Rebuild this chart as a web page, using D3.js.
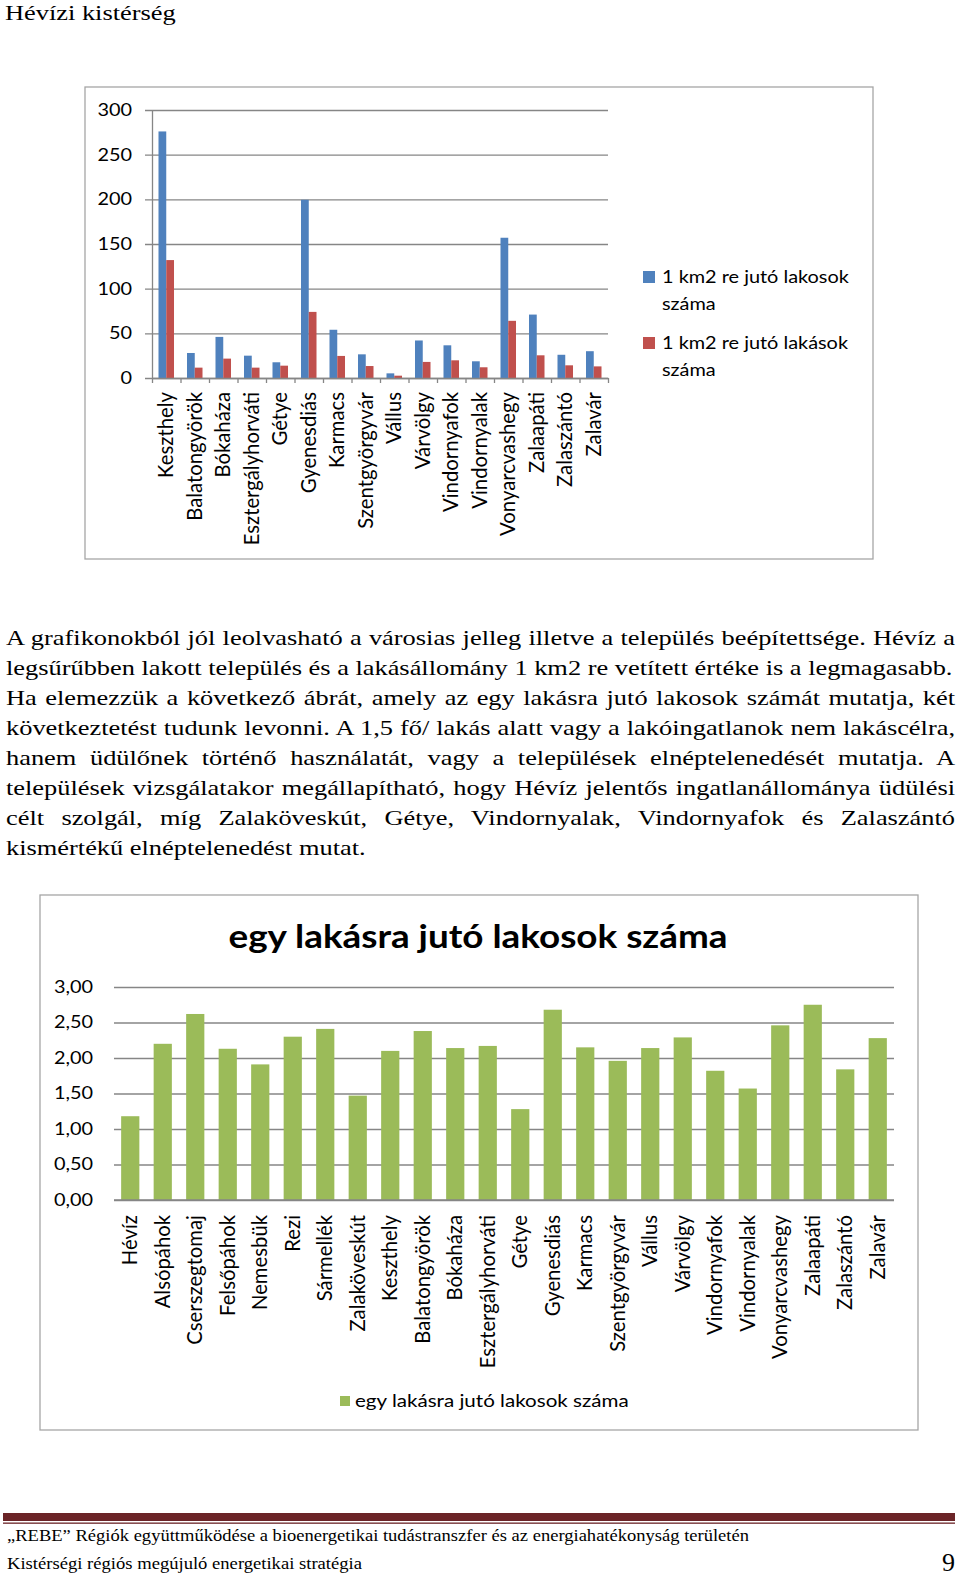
<!DOCTYPE html>
<html>
<head>
<meta charset="utf-8">
<script src="https://cdn.jsdelivr.net/npm/d3@7"></script>
<style>
	body { margin: 0; background: #fff; }
	svg { display: block; }
</style>
</head>
<body>
<script>
// first chart: density per km2
var towns1 = ['Keszthely', 'Balatongyörök', 'Bókaháza', 'Esztergályhorváti', 'Gétye', 'Gyenesdiás', 'Karmacs',
	'Szentgyörgyvár', 'Vállus', 'Várvölgy', 'Vindornyafok', 'Vindornyalak', 'Vonyarcvashegy', 'Zalaapáti', 'Zalaszántó', 'Zalavár'];
var lakosokKm2 = [276, 28, 46, 25, 17.6, 199.5, 54, 26.5, 5.2, 42, 36.6, 18.7, 157, 71, 26, 30];
var lakasokKm2 = [132, 11.6, 21.7, 11.6, 13.8, 74, 24.7, 13.4, 2.6, 18, 19.8, 12, 64, 25.4, 14.2, 13];
var ticks1 = [0, 50, 100, 150, 200, 250, 300];
var series1 = [['1 km2 re jutó lakosok', 'száma'], ['1 km2 re jutó lakások', 'száma']];

// second chart: residents per dwelling
var towns2 = ['Hévíz', 'Alsópáhok', 'Cserszegtomaj', 'Felsőpáhok', 'Nemesbük', 'Rezi', 'Sármellék', 'Zalaköveskút',
	'Keszthely', 'Balatongyörök', 'Bókaháza', 'Esztergályhorváti', 'Gétye', 'Gyenesdiás', 'Karmacs', 'Szentgyörgyvár',
	'Vállus', 'Várvölgy', 'Vindornyafok', 'Vindornyalak', 'Vonyarcvashegy', 'Zalaapáti', 'Zalaszántó', 'Zalavár'];
var lakosPerLakas = [1.18, 2.20, 2.62, 2.13, 1.91, 2.30, 2.41, 1.47, 2.10, 2.38, 2.14, 2.17, 1.28, 2.68, 2.15, 1.96,
	2.14, 2.29, 1.82, 1.57, 2.46, 2.75, 1.84, 2.28];
var ticks2 = [0, 0.5, 1, 1.5, 2, 2.5, 3];
var series2 = 'egy lakásra jutó lakosok száma';

var bodyLines = [
	'A grafikonokból jól leolvasható a városias jelleg illetve a település beépítettsége. Hévíz a',
	'legsűrűbben lakott település és a lakásállomány 1 km2 re vetített értéke is a legmagasabb.',
	'Ha elemezzük a következő ábrát, amely az egy lakásra jutó lakosok számát mutatja, két',
	'következtetést tudunk levonni. A 1,5 fő/ lakás alatt vagy a lakóingatlanok nem lakáscélra,',
	'hanem üdülőnek történő használatát, vagy a települések elnéptelenedését mutatja. A',
	'települések vizsgálatakor megállapítható, hogy Hévíz jelentős ingatlanállománya üdülési',
	'célt szolgál, míg Zalaköveskút, Gétye, Vindornyalak, Vindornyafok és Zalaszántó',
	'kismértékű elnéptelenedést mutat.'
];
var justified = [true, false, true, true, true, true, true, false];

var SX = 1.17;            // the page picture is stretched sideways
var SX_SERIF = 1.2;
var GRID = '#868686';
var FRAME = '#a6a6a6';
var CHART_FONT = 'Lato, Carlito, sans-serif';
var SERIF = '"Liberation Serif", "Times New Roman", serif';
var fmt2 = function(d) { return d3.format('.2f')(d).replace('.', ','); };

var svg = d3.select('body').append('svg')
	.attr('width', 960)
	.attr('height', 1577);

function stretch(sel, x, y, k) {
	sel.attr('transform', 'translate(' + x + ',' + y + ') scale(' + (k || SX) + ',1)');
}

svg.append('text')
	.attr('font-family', SERIF)
	.attr('font-size', 22)
	.text('Hévízi kistérség')
	.call(stretch, 5, 20, SX_SERIF);

// ---------- chart 1 ----------
svg.append('rect')
	.attr('x', 85).attr('y', 87)
	.attr('width', 788).attr('height', 472)
	.attr('fill', 'none')
	.attr('stroke', FRAME)
	.attr('stroke-width', 1.3);

var y1 = d3.scaleLinear().domain([0, 300]).range([378, 110]);
var x1 = d3.scaleBand().domain(towns1).range([152, 608]).paddingInner(0.456).paddingOuter(0.228);
var xs1 = d3.scaleBand().domain([0, 1]).range([0, x1.bandwidth()]);
var colors1 = ['#4f81bd', '#c0504d'];

var yAxis1 = svg.append('g')
	.attr('transform', 'translate(152,0)')
	.call(d3.axisLeft(y1).tickValues(ticks1).tickSize(-(608 - 152)).tickSizeOuter(0).tickPadding(20));
yAxis1.selectAll('.tick line').attr('x1', -7).attr('stroke', GRID).attr('stroke-width', 1.3);
yAxis1.select('.domain').attr('stroke', GRID).attr('stroke-width', 1.3);
yAxis1.selectAll('.tick text')
	.attr('font-family', CHART_FONT)
	.attr('font-size', 17)
	.attr('fill', '#000')
	.attr('x', -20 / SX)
	.attr('transform', 'scale(' + SX + ',1)');

var groups1 = svg.append('g').selectAll('g')
	.data(towns1)
	.join('g')
	.attr('transform', function(d) { return 'translate(' + x1(d) + ',0)'; });

groups1.selectAll('rect')
	.data(function(d, i) { return [lakosokKm2[i], lakasokKm2[i]]; })
	.join('rect')
	.attr('x', function(d, i) { return xs1(i); })
	.attr('y', function(d) { return y1(d); })
	.attr('width', xs1.bandwidth())
	.attr('height', function(d) { return y1(0) - y1(d); })
	.attr('fill', function(d, i) { return colors1[i]; });

var xb1 = d3.scaleLinear().domain([0, towns1.length]).range([152, 608]);
var xAxis1 = svg.append('g')
	.attr('transform', 'translate(0,' + y1(0) + ')')
	.call(d3.axisBottom(xb1).tickValues(d3.range(towns1.length + 1)).tickSize(5).tickSizeOuter(0).tickFormat(''));
xAxis1.selectAll('line, path').attr('stroke', GRID).attr('stroke-width', 1.3);

svg.append('g').selectAll('text')
	.data(towns1)
	.join('text')
	.attr('font-family', CHART_FONT)
	.attr('font-size', 20.3)
	.attr('text-anchor', 'end')
	.attr('dy', '0.35em')
	.attr('transform', function(d) {
		return 'translate(' + (x1(d) + x1.bandwidth() / 2) + ',392) rotate(-90)';
	})
	.text(function(d) { return d; });

var legend1 = svg.append('g').selectAll('g')
	.data(series1)
	.join('g')
	.attr('transform', function(d, i) { return 'translate(643,' + (271 + i * 66) + ')'; });
legend1.append('rect')
	.attr('width', 12).attr('height', 12)
	.attr('fill', function(d, i) { return colors1[i]; });
legend1.each(function(d) {
	var g = d3.select(this);
	d.forEach(function(line, j) {
		g.append('text')
			.attr('font-family', CHART_FONT)
			.attr('font-size', 17)
			.text(line)
			.call(stretch, 19, 12 + j * 26.5);
	});
});

// ---------- paragraph ----------
var paraLeft = 6, paraRight = 955;
svg.append('g').selectAll('text')
	.data(bodyLines)
	.join('text')
	.attr('font-family', SERIF)
	.attr('font-size', 22)
	.attr('fill', '#000')
	.text(function(d) { return d; })
	.each(function(d, i) {
		var t = d3.select(this);
		t.call(stretch, paraLeft, 644.5 + i * 30.1, SX_SERIF);
		if (justified[i]) {
			var natural = this.getComputedTextLength();
			var spaces = d.split(' ').length - 1;
			var extra = ((paraRight - paraLeft) / SX_SERIF - natural) / spaces;
			t.attr('word-spacing', extra);
		}
	});

// ---------- chart 2 ----------
svg.append('rect')
	.attr('x', 40).attr('y', 895)
	.attr('width', 878).attr('height', 535)
	.attr('fill', 'none')
	.attr('stroke', FRAME)
	.attr('stroke-width', 1.3);

var y2 = d3.scaleLinear().domain([0, 3]).range([1200, 987]);
var x2 = d3.scaleBand().domain(towns2).range([114, 894]).paddingInner(0.44).paddingOuter(0.22);

var yAxis2 = svg.append('g')
	.attr('transform', 'translate(114,0)')
	.call(d3.axisLeft(y2).tickValues(ticks2).tickSize(-(894 - 114)).tickPadding(21).tickFormat(fmt2));
yAxis2.select('.domain').remove();
yAxis2.selectAll('.tick line').attr('stroke', GRID).attr('stroke-width', 1.3);
yAxis2.selectAll('.tick text')
	.attr('font-family', CHART_FONT)
	.attr('font-size', 17)
	.attr('fill', '#000')
	.attr('x', -21 / SX)
	.attr('transform', 'scale(' + SX + ',1)');

svg.append('g').selectAll('rect')
	.data(lakosPerLakas)
	.join('rect')
	.attr('x', function(d, i) { return x2(towns2[i]); })
	.attr('y', function(d) { return y2(d); })
	.attr('width', x2.bandwidth())
	.attr('height', function(d) { return y2(0) - y2(d); })
	.attr('fill', '#9bbb59');

svg.append('line')
	.attr('x1', 114).attr('x2', 894)
	.attr('y1', y2(0)).attr('y2', y2(0))
	.attr('stroke', GRID).attr('stroke-width', 1.3);

svg.append('text')
	.attr('font-family', CHART_FONT)
	.attr('font-weight', 'bold')
	.attr('font-size', 31.5)
	.attr('text-anchor', 'middle')
	.text(series2)
	.call(stretch, 478, 948);

svg.append('g').selectAll('text')
	.data(towns2)
	.join('text')
	.attr('font-family', CHART_FONT)
	.attr('font-size', 20.3)
	.attr('text-anchor', 'end')
	.attr('dy', '0.35em')
	.attr('transform', function(d) {
		return 'translate(' + (x2(d) + x2.bandwidth() / 2) + ',1215) rotate(-90)';
	})
	.text(function(d) { return d; });

svg.append('rect')
	.attr('x', 340).attr('y', 1396)
	.attr('width', 10).attr('height', 10)
	.attr('fill', '#9bbb59');
svg.append('text')
	.attr('font-family', CHART_FONT)
	.attr('font-size', 17.6)
	.text(series2)
	.call(stretch, 355, 1407);

// ---------- footer ----------
svg.append('rect')
	.attr('x', 3).attr('y', 1513)
	.attr('width', 952).attr('height', 8)
	.attr('fill', '#6b2427');
svg.append('rect')
	.attr('x', 3).attr('y', 1522.5)
	.attr('width', 952).attr('height', 1.3)
	.attr('fill', '#6b2427');

svg.append('text')
	.attr('x', 7).attr('y', 1541)
	.attr('font-family', SERIF)
	.attr('font-size', 17)
	.attr('textLength', 742)
	.attr('lengthAdjust', 'spacingAndGlyphs')
	.text('„REBE” Régiók együttműködése a bioenergetikai tudástranszfer és az energiahatékonyság területén');
svg.append('text')
	.attr('x', 7).attr('y', 1569)
	.attr('font-family', SERIF)
	.attr('font-size', 17)
	.attr('textLength', 355)
	.attr('lengthAdjust', 'spacingAndGlyphs')
	.text('Kistérségi régiós megújuló energetikai stratégia');
svg.append('text')
	.attr('x', 955).attr('y', 1571)
	.attr('font-family', SERIF)
	.attr('font-size', 26)
	.attr('text-anchor', 'end')
	.text('9');
</script>
</body>
</html>
